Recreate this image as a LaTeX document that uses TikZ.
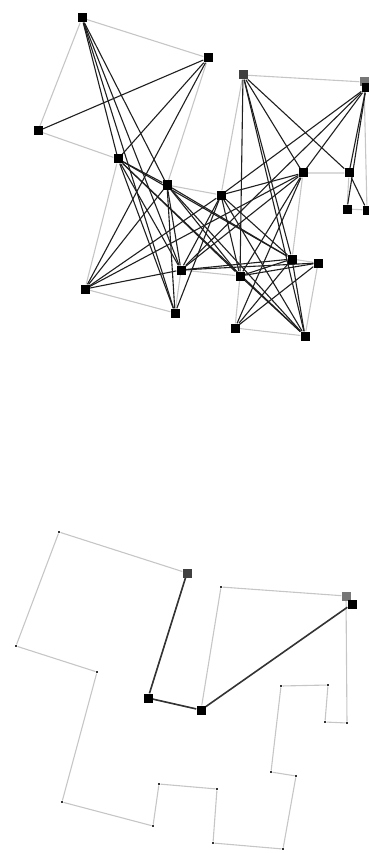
\documentclass[tikz,border=0pt]{standalone}
\usepackage{xcolor}
\usetikzlibrary{backgrounds}

\begin{document}
\begin{tikzpicture}[x=1pt, y=-1pt,
    vertex/.style={fill=black, minimum size=9pt, inner sep=0pt},
    corner/.style={fill=black!80, minimum size=2.6pt, inner sep=0pt},
    wall/.style={draw=wallGray, line width=1.1pt},
    sight/.style={draw=black!88, line width=1.1pt},
    route/.style={draw=black!80, line width=1.6pt}]
    % Color Palette
    \definecolor{wallGray}{HTML}{C6C6C6}
    \definecolor{startGray}{HTML}{404040}
    \definecolor{goalGray}{HTML}{777777}

    \useasboundingbox (0,0) rectangle (369,853);

    % --- Visibility graph (top) ---
    \node[vertex] (p1) at (82,18) {};
    \node[vertex] (p2) at (208,58) {};
    \node[vertex] (p3) at (167,185) {};
    \node[vertex] (p4) at (221,195) {};
    \node[vertex, fill=startGray] (p5) at (243,75) {};
    \node[vertex, fill=goalGray] (p6) at (364,82) {};
    \node[vertex] (p6k) at (366,88) {};
    \node[vertex] (p7) at (367,210) {};
    \node[vertex] (p8) at (347,209) {};
    \node[vertex] (p9) at (349,173) {};
    \node[vertex] (p10) at (303,173) {};
    \node[vertex] (p11) at (292,259) {};
    \node[vertex] (p12) at (318,263) {};
    \node[vertex] (p13) at (305,336) {};
    \node[vertex] (p14) at (235,328) {};
    \node[vertex] (p15) at (240,276) {};
    \node[vertex] (p16) at (181,270) {};
    \node[vertex] (p17) at (175,313) {};
    \node[vertex] (p18) at (85,289) {};
    \node[vertex] (p19) at (118,159) {};
    \node[vertex] (p20) at (38,131) {};

    \begin{scope}[on background layer]
        \draw[wall] (p1) -- (p2) -- (p3) -- (p4) -- (p5) -- (p6) -- (p7) -- (p8) -- (p9) -- (p10)
            -- (p11) -- (p12) -- (p13) -- (p14) -- (p15) -- (p16) -- (p17) -- (p18) -- (p19) -- (p20) -- (p1);
        \foreach \a/\b in {1/19, 1/3, 1/16, 1/17, 2/20, 2/19, 2/18,
                3/19, 3/18, 3/17, 3/16, 3/15, 3/13, 3/11,
                4/18, 4/17, 4/16, 4/15, 4/13, 4/11, 4/10, 4/6k,
                5/9, 5/10, 5/11, 5/13, 5/15, 6k/10, 6k/9, 6k/8, 6k/16, 7/9,
                10/16, 10/18, 10/15, 10/14, 11/19, 11/16, 11/14, 11/13, 11/15,
                12/14, 12/15, 12/16, 13/19, 13/15, 15/19, 16/19, 16/18, 17/19}
            \draw[sight] (p\a) -- (p\b);
    \end{scope}

    % --- Shortest path (bottom) ---
    \node[corner] (q1) at (59,532) {};
    \node[vertex, fill=startGray] (q2) at (187,573) {};
    \node[vertex] (q3) at (148,698) {};
    \node[vertex] (q4) at (201,710) {};
    \node[corner] (q5) at (221,587) {};
    \node[vertex, fill=goalGray] (q6) at (346,596) {};
    \node[vertex] (q6k) at (352,604) {};
    \node[corner] (q7) at (347,723) {};
    \node[corner] (q8) at (325,722) {};
    \node[corner] (q9) at (328,685) {};
    \node[corner] (q10) at (281,686) {};
    \node[corner] (q11) at (271,772) {};
    \node[corner] (q12) at (296,776) {};
    \node[corner] (q13) at (283,849) {};
    \node[corner] (q14) at (213,843) {};
    \node[corner] (q15) at (217,789) {};
    \node[corner] (q16) at (159,784) {};
    \node[corner] (q17) at (153,826) {};
    \node[corner] (q18) at (62,802) {};
    \node[corner] (q19) at (97,672) {};
    \node[corner] (q20) at (16,646) {};

    \begin{scope}[on background layer]
        \draw[wall] (q1) -- (q2) -- (q3) -- (q4) -- (q5) -- (q6) -- (q7) -- (q8) -- (q9) -- (q10)
            -- (q11) -- (q12) -- (q13) -- (q14) -- (q15) -- (q16) -- (q17) -- (q18) -- (q19) -- (q20) -- (q1);
        \draw[route] (q2) -- (q3) -- (q4) -- (q6k);
    \end{scope}

\end{tikzpicture}
\end{document}
